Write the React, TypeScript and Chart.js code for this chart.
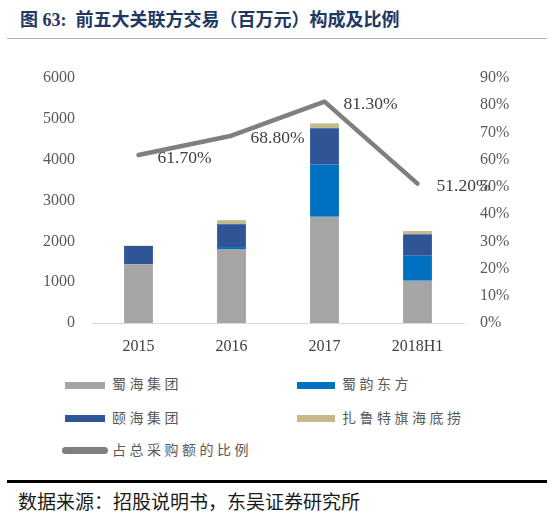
import React, { useEffect, useRef } from "react";
import { Chart, registerables } from "chart.js";

Chart.register(...registerables);

const categories = ["2015", "2016", "2017", "2018H1"];
const shuhaiGroup = [1440, 1810, 2600, 1036];
const shuyunDongfang = [0, 50, 1283, 612];
const yihaiGroup = [446, 560, 885, 524];
const zhaluteHaidilao = [10, 98, 122, 82];
const purchaseRatio = [61.7, 68.8, 81.3, 51.2];
const seriesNames = ["蜀海集团", "蜀韵东方", "颐海集团", "扎鲁特旗海底捞", "占总采购额的比例"];
const seriesColors = ["#A5A5A5", "#0070C0", "#2F5597", "#C4BA8C", "#7F7F7F"];

const FONT = '"Liberation Serif", "Noto Sans CJK SC", serif';

const lineLabels = {
  id: "lineLabels",
  afterDatasetsDraw(chart: any) {
    const meta = chart.getDatasetMeta(4);
    const ctx = chart.ctx;
    ctx.save();
    ctx.font = '17.5px "Liberation Serif"';
    ctx.fillStyle = "#404040";
    ctx.textAlign = "left";
    ctx.textBaseline = "middle";
    meta.data.forEach((pt: any, i: number) => {
      ctx.fillText(purchaseRatio[i].toFixed(2) + "%", pt.x + 19, pt.y + 3);
    });
    ctx.restore();
  },
};

export default function App() {
  const ref = useRef<HTMLCanvasElement | null>(null);

  useEffect(() => {
    document.body.style.margin = "0";
    if (!ref.current) return;
    const tickFont = { family: '"Liberation Serif"', size: 16 };
    const chart = new Chart(ref.current, {
      type: "bar",
      data: {
        labels: categories,
        datasets: [
          { type: "bar", label: seriesNames[0], data: shuhaiGroup, backgroundColor: seriesColors[0], yAxisID: "y", stack: "s", order: 1, barPercentage: 0.31, categoryPercentage: 1 },
          { type: "bar", label: seriesNames[1], data: shuyunDongfang, backgroundColor: seriesColors[1], yAxisID: "y", stack: "s", order: 1, barPercentage: 0.31, categoryPercentage: 1 },
          { type: "bar", label: seriesNames[2], data: yihaiGroup, backgroundColor: seriesColors[2], yAxisID: "y", stack: "s", order: 1, barPercentage: 0.31, categoryPercentage: 1 },
          { type: "bar", label: seriesNames[3], data: zhaluteHaidilao, backgroundColor: seriesColors[3], yAxisID: "y", stack: "s", order: 1, barPercentage: 0.31, categoryPercentage: 1 },
          {
            type: "line",
            label: seriesNames[4],
            data: purchaseRatio,
            borderColor: seriesColors[4],
            backgroundColor: seriesColors[4],
            borderWidth: 4.5,
            pointRadius: 0,
            tension: 0,
            borderCapStyle: "round",
            borderJoinStyle: "round",
            yAxisID: "y1",
            order: 0,
          } as any,
        ],
      },
      options: {
        responsive: false,
        maintainAspectRatio: false,
        animation: false,
        layout: { padding: { top: 78, left: 0, right: 0, bottom: 0 } },
        plugins: { legend: { display: false }, tooltip: { enabled: false } },
        scales: {
          x: {
            stacked: true,
            grid: { display: false, drawTicks: false },
            border: { display: true, color: "#D9D9D9", width: 1 },
            ticks: { font: tickFont, color: "#404040", padding: 14 },
            afterFit: (s: any) => { s.height = 42; },
          },
          y: {
            stacked: true,
            position: "left",
            min: 0,
            max: 6000,
            grid: { display: false, drawTicks: false },
            border: { display: false },
            ticks: { stepSize: 1000, font: tickFont, color: "#595959", padding: 17, callback: (v: any) => String(v) },
            afterFit: (s: any) => { s.width = 92; },
          },
          y1: {
            position: "right",
            min: 0,
            max: 90,
            grid: { display: false, drawTicks: false },
            border: { display: false },
            ticks: { stepSize: 10, font: tickFont, color: "#595959", padding: 16, callback: (v: any) => v + "%" },
            afterFit: (s: any) => { s.width = 90; },
          },
        },
      } as any,
      plugins: [lineLabels],
    });
    return () => chart.destroy();
  }, []);

  const legendText: React.CSSProperties = {
    position: "absolute",
    fontFamily: FONT,
    fontSize: 14,
    letterSpacing: "3.5px",
    color: "#595959",
    lineHeight: "20px",
    whiteSpace: "nowrap",
  };
  const swatch = (left: number, cy: number, w: number, color: string, round = false): React.CSSProperties => ({
    position: "absolute",
    left,
    top: cy - 3.5,
    width: w,
    height: 7,
    background: color,
    borderRadius: round ? 3.5 : 0,
  });

  const legendItems = [
    { sx: 65, sw: 40, tx: 112, cy: 385, i: 0 },
    { sx: 297, sw: 38, tx: 342, cy: 385, i: 1 },
    { sx: 65, sw: 40, tx: 112, cy: 418.5, i: 2 },
    { sx: 297, sw: 38, tx: 342, cy: 418.5, i: 3 },
  ];

  return (
    <div style={{ position: "relative", width: 554, height: 521, background: "#fff", overflow: "hidden" }}>
      <div
        style={{
          position: "absolute",
          left: 20,
          top: 8,
          fontFamily: FONT,
          fontWeight: "bold",
          fontSize: 18,
          lineHeight: "24px",
          color: "#1F3864",
          whiteSpace: "pre",
        }}
      >
        {"图 63:  前五大关联方交易（百万元）构成及比例"}
      </div>
      <div style={{ position: "absolute", left: 7, top: 38, width: 540, height: 1, background: "#B0B0B0" }} />
      <canvas ref={ref} width={554} height={365} style={{ position: "absolute", left: 0, top: 0 }} />
      {legendItems.map((it) => (
        <React.Fragment key={it.i}>
          <div style={swatch(it.sx, it.cy, it.sw, seriesColors[it.i])} />
          <div style={{ ...legendText, left: it.tx, top: it.cy - 10 }}>{seriesNames[it.i]}</div>
        </React.Fragment>
      ))}
      <div style={swatch(62, 450.5, 46, seriesColors[4], true)} />
      <div style={{ ...legendText, left: 112, top: 440.5 }}>{seriesNames[4]}</div>
      <div style={{ position: "absolute", left: 7, top: 480, width: 540, height: 2.5, background: "#000" }} />
      <div
        style={{
          position: "absolute",
          left: 18,
          top: 491,
          fontFamily: FONT,
          fontSize: 19,
          lineHeight: "24px",
          color: "#1a1a1a",
          whiteSpace: "nowrap",
        }}
      >
        数据来源：招股说明书，东吴证券研究所
      </div>
    </div>
  );
}
